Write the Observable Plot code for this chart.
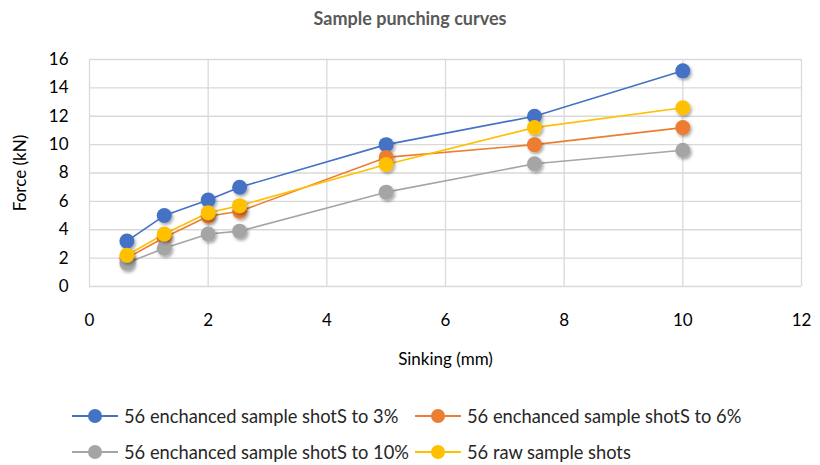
<!DOCTYPE html>
<html>
<head>
<meta charset="utf-8">
<script src="https://cdn.jsdelivr.net/npm/d3@7"></script>
<script src="https://cdn.jsdelivr.net/npm/@observablehq/plot@0.6"></script>
<style>
  body { margin: 0; background: #fff; font-family: "Lato", "Open Sans", sans-serif; }
  #wrap { width: 820px; }
  #title { height: 36px; line-height: 36px; text-align: center; font-weight: bold; font-size: 18px; color: #595959; }
  #legend { display: grid; grid-template-columns: 343px auto; margin-left: 72px; row-gap: 14px; margin-top: 24px; font-size: 18.3px; color: #262626; }
  .item { display: flex; align-items: center; height: 22px; white-space: nowrap; }
  .item svg { margin-right: 6px; flex-shrink: 0; }
</style>
</head>
<body>
<div id="wrap">
  <div id="title">Sample punching curves</div>
  <div id="chart"></div>
  <div id="legend"></div>
</div>
<script>
const seriesNames = [
  "56 enchanced sample shotS to 3%",
  "56 enchanced sample shotS to 6%",
  "56 enchanced sample shotS to 10%",
  "56 raw sample shots"
];
const colors = ["#4472C4", "#ED7D31", "#A5A5A5", "#FFC000"];
const sinking = [0.63, 1.26, 2, 2.53, 5, 7.5, 10];
const force3 = [3.2, 5.0, 6.1, 7.0, 10.0, 12.0, 15.2];
const force6 = [2.0, 3.45, 4.95, 5.3, 9.1, 10.0, 11.2];
const force10 = [1.65, 2.7, 3.7, 3.9, 6.65, 8.65, 9.6];
const forceRaw = [2.2, 3.7, 5.2, 5.7, 8.6, 11.2, 12.6];
const xTicks = [0, 2, 4, 6, 8, 10, 12];
const yTicks = [0, 2, 4, 6, 8, 10, 12, 14, 16];

const allForces = [force3, force6, force10, forceRaw];
const data = [];
allForces.forEach((arr, i) => arr.forEach((f, j) => data.push({series: seriesNames[i], x: sinking[j], y: f})));

const chart = Plot.plot({
  width: 820,
  height: 345,
  marginLeft: 89,
  marginRight: 19,
  marginTop: 23,
  marginBottom: 95,
  style: { fontFamily: "Lato, 'Open Sans', sans-serif", fontSize: "17px", color: "#000" },
  x: { domain: [0, 12] },
  y: { domain: [0, 16] },
  color: { domain: seriesNames, range: colors },
  marks: [
    Plot.gridX(xTicks, { stroke: "#d9d9d9", strokeOpacity: 1, strokeWidth: 1.3 }),
    Plot.gridY(yTicks, { stroke: "#d9d9d9", strokeOpacity: 1, strokeWidth: 1.3 }),
    Plot.axisX(xTicks, { tickSize: 0, tickPadding: 27, label: "Sinking (mm)", labelAnchor: "center", labelArrow: "none", labelOffset: 78, fontSize: 17 }),
    Plot.axisY(yTicks, { tickSize: 0, tickPadding: 21, label: "Force (kN)", labelAnchor: "center", labelArrow: "none", labelOffset: 76, fontSize: 17 }),
    Plot.line(data, { x: "x", y: "y", z: "series", stroke: "series", strokeWidth: 1.6 }),
    Plot.dot(data, { x: "x", y: "y", fill: "series", r: 7.5, stroke: "none" })
  ]
});
document.getElementById("chart").appendChild(chart);

// drop shadow on markers
const svg = d3.select(chart);
const defs = svg.insert("defs", ":first-child");
defs.append("filter").attr("id", "sh").attr("x", "-50%").attr("y", "-50%").attr("width", "200%").attr("height", "200%")
  .append("feDropShadow").attr("dx", 1.5).attr("dy", 2).attr("stdDeviation", 1.5).attr("flood-color", "#000").attr("flood-opacity", 0.35);
svg.selectAll("circle").attr("filter", "url(#sh)");

// legend
const leg = document.getElementById("legend");
seriesNames.forEach((name, i) => {
  const d = document.createElement("div");
  d.className = "item";
  d.innerHTML = `<svg width="46" height="18"><line x1="0" x2="46" y1="9" y2="9" stroke="${colors[i]}" stroke-width="2"/><circle cx="23" cy="9" r="7" fill="${colors[i]}"/></svg><span>${name}</span>`;
  leg.appendChild(d);
});
</script>
</body>
</html>
